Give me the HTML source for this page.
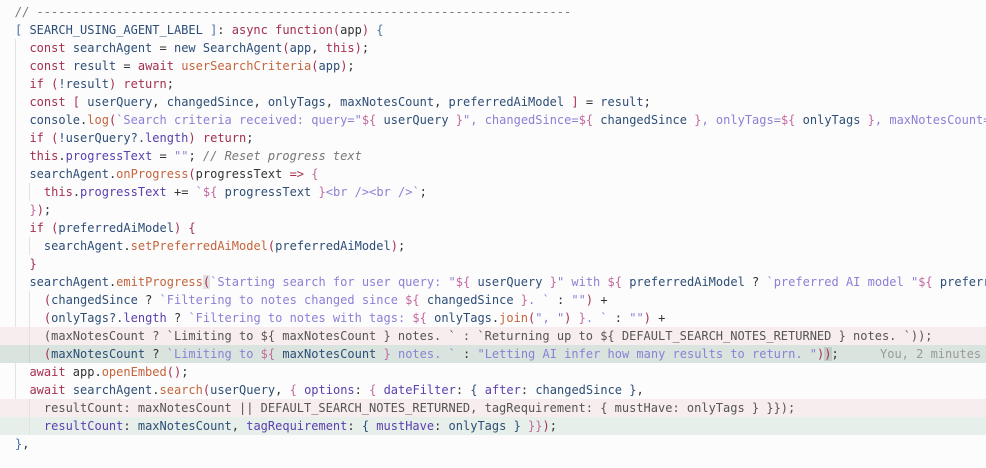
<!DOCTYPE html>
<html><head><meta charset="utf-8"><style>
html,body{margin:0;overflow:hidden}
body{background:#fcfcfc;width:986px;height:468px;position:relative}
.c{position:absolute;top:3px;left:0;width:986px;overflow:hidden;font-family:"DejaVu Sans Mono","Liberation Mono",monospace;font-size:12px;color:#333}
.l{height:18px;line-height:18px;white-space:pre;padding-left:15px;position:relative;overflow:hidden}
.del{background:#f7edee;color:#555}
.add{background:#d9e4de}
.add2{background:#e6efea}
.k{color:#a4304f}.v{color:#2d4e77}.f{color:#c4643c}.s{color:#8c80d6}.p{color:#5b3fb0}.b{color:#c4679f}.cm{color:#777;font-style:italic}.bl{color:#4a6fa5}
.g{position:absolute;width:1px;background:#e2e2e2}
.hl{background:#e3e3e3}
.blame{position:absolute;left:880px;color:#999}
</style></head><body>
<div class="g" style="left:15px;top:39px;height:396px"></div>
<div class="c">
<div class="l"><span class="cm">// --------------------------------------------------------------------------</span></div>
<div class="l"><span class="bl">[ </span><span class="v">SEARCH_USING_AGENT_LABEL</span><span class="bl"> ]</span>: <span class="k">async function</span><span class="k">(</span>app<span class="k">)</span> <span class="bl">{</span></div>
<div class="l">  <span class="k">const</span> <span class="v">searchAgent</span> = <span class="v">new SearchAgent</span><span class="k">(</span><span class="v">app</span>, <span class="k">this</span><span class="k">)</span>;</div>
<div class="l">  <span class="k">const</span> <span class="v">result</span> = <span class="k">await</span> <span class="f">userSearchCriteria</span><span class="k">(</span><span class="v">app</span><span class="k">)</span>;</div>
<div class="l">  <span class="k">if (</span><span class="v">!result</span><span class="k">) return</span>;</div>
<div class="l">  <span class="k">const [</span> <span class="v">userQuery</span>, <span class="v">changedSince</span>, <span class="v">onlyTags</span>, <span class="v">maxNotesCount</span>, <span class="v">preferredAiModel</span> <span class="k">]</span> = <span class="v">result</span>;</div>
<div class="l">  <span class="v">console</span>.<span class="f">log</span><span class="k">(</span><span class="s">`Search criteria received: query="</span><span class="b">${</span> <span class="v">userQuery</span> <span class="b">}</span><span class="s">", changedSince=</span><span class="b">${</span> <span class="v">changedSince</span> <span class="b">}</span><span class="s">, onlyTags=</span><span class="b">${</span> <span class="v">onlyTags</span> <span class="b">}</span><span class="s">, maxNotesCount=${ maxNotesCount }</span></div>
<div class="l">  <span class="k">if (</span><span class="v">!userQuery?.</span><span class="p">length</span><span class="k">) return</span>;</div>
<div class="l">  <span class="k">this</span>.<span class="p">progressText</span> = <span class="s">""</span>; <span class="cm">// Reset progress text</span></div>
<div class="l">  <span class="v">searchAgent</span>.<span class="f">onProgress</span><span class="k">(</span>progressText <span class="k">=&gt;</span> <span class="b">{</span></div>
<div class="l"><span class="g" style="left:29px;top:0;height:18px"></span>    <span class="k">this</span>.<span class="p">progressText</span> += <span class="s">`</span><span class="b">${</span> <span class="v">progressText</span> <span class="b">}</span><span class="s">&lt;br /&gt;&lt;br /&gt;`</span>;</div>
<div class="l">  <span class="b">}</span><span class="k">)</span>;</div>
<div class="l">  <span class="k">if (</span><span class="v">preferredAiModel</span><span class="k">)</span> <span class="k">{</span></div>
<div class="l"><span class="g" style="left:29px;top:0;height:18px"></span>    <span class="v">searchAgent</span>.<span class="f">setPreferredAiModel</span><span class="k">(</span><span class="v">preferredAiModel</span><span class="k">)</span>;</div>
<div class="l">  <span class="k">}</span></div>
<div class="l">  <span class="v">searchAgent</span>.<span class="f">emitProgress</span><span class="k hl">(</span><span class="s">`Starting search for user query: "</span><span class="b">${</span> <span class="v">userQuery</span> <span class="b">}</span><span class="s">" with </span><span class="b">${</span> <span class="v">preferredAiModel</span> ? <span class="s">`preferred AI model "</span><span class="b">${</span> <span class="v">preferredAiModel</span></div>
<div class="l"><span class="g" style="left:29px;top:0;height:18px"></span>    <span class="k">(</span><span class="v">changedSince</span> ? <span class="s">`Filtering to notes changed since </span><span class="b">${</span> <span class="v">changedSince</span> <span class="b">}</span><span class="s">. `</span> : <span class="s">""</span><span class="k">)</span> +</div>
<div class="l"><span class="g" style="left:29px;top:0;height:18px"></span>    <span class="k">(</span><span class="v">onlyTags?.</span><span class="p">length</span> ? <span class="s">`Filtering to notes with tags: </span><span class="b">${</span> <span class="v">onlyTags</span>.<span class="f">join</span><span class="k">(</span><span class="s">", "</span><span class="k">)</span> <span class="b">}</span><span class="s">. `</span> : <span class="s">""</span><span class="k">)</span> +</div>
<div class="l del"><span class="g" style="left:29px;top:0;height:18px"></span>    (maxNotesCount ? `Limiting to ${ maxNotesCount } notes. ` : `Returning up to ${ DEFAULT_SEARCH_NOTES_RETURNED } notes. `));</div>
<div class="l add"><span class="g" style="left:29px;top:0;height:18px;background:#c9d3ce"></span>    <span class="k">(</span><span class="v">maxNotesCount</span> ? <span class="s">`Limiting to </span><span class="b">${</span> <span class="v">maxNotesCount</span> <span class="b">}</span><span class="s"> notes. `</span> : <span class="s">"Letting AI infer how many results to return. "</span><span class="k">)</span><span class="k" style="background:#c5ccc8">)</span>;<span class="blame">You, 2 minutes ago</span></div>
<div class="l">  <span class="k">await</span> app.<span class="f">openEmbed</span><span class="k">()</span>;</div>
<div class="l">  <span class="k">await</span> <span class="v">searchAgent</span>.<span class="f">search</span><span class="k">(</span><span class="v">userQuery</span>, <span class="b">{</span> <span class="p">options</span>: <span class="b">{</span> <span class="p">dateFilter</span>: <span class="v">{</span> <span class="p">after</span>: <span class="v">changedSince</span> <span class="v">}</span>,</div>
<div class="l del"><span class="g" style="left:29px;top:0;height:18px"></span>    resultCount: maxNotesCount || DEFAULT_SEARCH_NOTES_RETURNED, tagRequirement: { mustHave: onlyTags } }});</div>
<div class="l add2"><span class="g" style="left:29px;top:0;height:18px"></span>    <span class="p">resultCount</span>: <span class="v">maxNotesCount</span>, <span class="p">tagRequirement</span>: <span class="v">{</span> <span class="p">mustHave</span>: <span class="v">onlyTags</span> <span class="v">}</span> <span class="b">}}</span><span class="k">)</span>;</div>
<div class="l"><span class="bl">}</span>,</div>
</div>
</body></html>
